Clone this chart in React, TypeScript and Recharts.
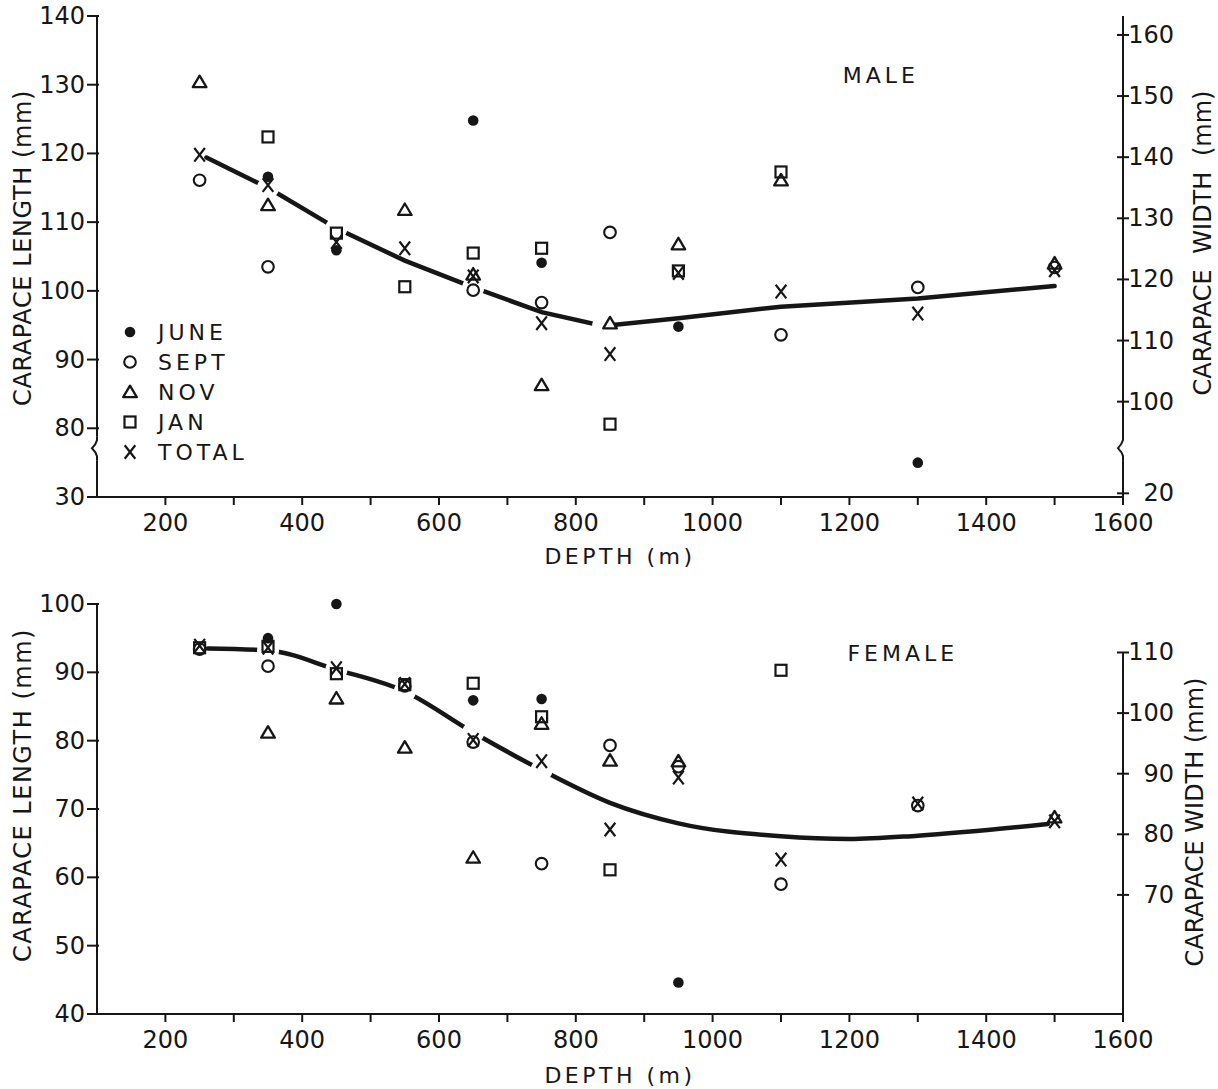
import React from 'react';
import { ComposedChart, Scatter, Line, XAxis, YAxis, Legend, ReferenceDot } from 'recharts';

const INK = '#161616';
const FONT = '"DejaVu Sans", "Liberation Sans", sans-serif';

// ---------- axes ----------
const DEPTH_TICKS = [200, 300, 400, 500, 600, 700, 800, 900, 1000, 1100, 1200, 1300, 1400, 1500, 1600];
const DEPTH_LABELS = [200, 400, 600, 800, 1000, 1200, 1400, 1600];

const MALE_LEFT_TICKS = [70, 77.1, 80, 90, 100, 110, 120, 130, 140];
const MALE_LEFT_BREAK = 77.1;
const MALE_LEFT_TEXT: Record<number, string> = { 70: '30' };
const MALE_BREAK_SHIFT = 40; // values below the break are drawn 40 mm higher
const MALE_RIGHT_TICKS = [85, 92.4, 100, 110, 120, 130, 140, 150, 160];
const MALE_RIGHT_BREAK = 92.4;
const MALE_RIGHT_TEXT: Record<number, string> = { 85: '20' };

const FEMALE_LEFT_TICKS = [40, 50, 60, 70, 80, 90, 100];
const FEMALE_RIGHT_TICKS = [70, 80, 90, 100, 110];

// ---------- data (depth m, carapace length mm) ----------
type Pt = { depth: number; cl: number };

const MALE_JUNE: Pt[] = [
  { depth: 350, cl: 116.6 }, { depth: 450, cl: 105.9 }, { depth: 650, cl: 124.8 },
  { depth: 750, cl: 104.1 }, { depth: 950, cl: 94.8 }, { depth: 1300, cl: 35 },
];
const MALE_SEPT: Pt[] = [
  { depth: 250, cl: 116.1 }, { depth: 350, cl: 103.5 }, { depth: 650, cl: 100.1 },
  { depth: 750, cl: 98.3 }, { depth: 850, cl: 108.5 }, { depth: 1100, cl: 93.6 },
  { depth: 1300, cl: 100.5 }, { depth: 1500, cl: 103.4 },
];
const MALE_NOV: Pt[] = [
  { depth: 250, cl: 130.4 }, { depth: 350, cl: 112.5 }, { depth: 550, cl: 111.8 },
  { depth: 650, cl: 102.4 }, { depth: 750, cl: 86.3 }, { depth: 850, cl: 95.3 },
  { depth: 950, cl: 106.8 }, { depth: 1100, cl: 116.1 }, { depth: 1500, cl: 104.0 },
];
const MALE_JAN: Pt[] = [
  { depth: 350, cl: 122.4 }, { depth: 450, cl: 108.4 }, { depth: 550, cl: 100.6 },
  { depth: 650, cl: 105.5 }, { depth: 750, cl: 106.2 }, { depth: 850, cl: 80.6 },
  { depth: 950, cl: 102.9 }, { depth: 1100, cl: 117.3 },
];
const MALE_TOTAL: Pt[] = [
  { depth: 250, cl: 119.8 }, { depth: 350, cl: 115.4 }, { depth: 450, cl: 107.1 },
  { depth: 550, cl: 106.2 }, { depth: 650, cl: 102.1 }, { depth: 750, cl: 95.3 },
  { depth: 850, cl: 90.8 }, { depth: 950, cl: 102.6 }, { depth: 1100, cl: 99.9 },
  { depth: 1300, cl: 96.7 }, { depth: 1500, cl: 103.0 },
];
const MALE_FIT: Pt[] = [
  { depth: 260, cl: 119.4 }, { depth: 350, cl: 115.0 }, { depth: 450, cl: 109.1 },
  { depth: 550, cl: 104.4 }, { depth: 650, cl: 100.5 }, { depth: 750, cl: 96.9 },
  { depth: 840, cl: 94.9 }, { depth: 950, cl: 96.0 }, { depth: 1100, cl: 97.7 },
  { depth: 1300, cl: 98.9 }, { depth: 1500, cl: 100.7 },
];
// depths where the drawn curve is broken around a symbol
const MALE_FIT_GAPS = [350, 450, 650, 840];

const FEMALE_JUNE: Pt[] = [
  { depth: 350, cl: 95.0 }, { depth: 450, cl: 100.0 }, { depth: 650, cl: 85.9 },
  { depth: 750, cl: 86.1 }, { depth: 950, cl: 44.6 },
];
const FEMALE_SEPT: Pt[] = [
  { depth: 250, cl: 93.4 }, { depth: 350, cl: 90.9 }, { depth: 550, cl: 88.0 },
  { depth: 650, cl: 79.8 }, { depth: 750, cl: 62.0 }, { depth: 850, cl: 79.3 },
  { depth: 950, cl: 76.2 }, { depth: 1100, cl: 59.0 }, { depth: 1300, cl: 70.5 },
];
const FEMALE_NOV: Pt[] = [
  { depth: 350, cl: 81.2 }, { depth: 450, cl: 86.2 }, { depth: 550, cl: 79.0 },
  { depth: 650, cl: 62.9 }, { depth: 750, cl: 82.5 }, { depth: 850, cl: 77.1 },
  { depth: 950, cl: 77.0 }, { depth: 1500, cl: 68.8 },
];
const FEMALE_JAN: Pt[] = [
  { depth: 250, cl: 93.6 }, { depth: 350, cl: 93.8 }, { depth: 450, cl: 89.8 },
  { depth: 550, cl: 88.2 }, { depth: 650, cl: 88.4 }, { depth: 750, cl: 83.5 },
  { depth: 850, cl: 61.1 }, { depth: 1100, cl: 90.3 },
];
const FEMALE_TOTAL: Pt[] = [
  { depth: 250, cl: 93.9 }, { depth: 350, cl: 93.6 }, { depth: 450, cl: 90.6 },
  { depth: 550, cl: 88.3 }, { depth: 650, cl: 80.1 }, { depth: 750, cl: 77.0 },
  { depth: 850, cl: 67.0 }, { depth: 950, cl: 74.6 }, { depth: 1100, cl: 62.6 },
  { depth: 1300, cl: 70.8 }, { depth: 1500, cl: 68.2 },
];
const FEMALE_FIT: Pt[] = [
  { depth: 262, cl: 93.5 }, { depth: 350, cl: 93.2 }, { depth: 450, cl: 90.4 },
  { depth: 550, cl: 87.2 }, { depth: 650, cl: 81.2 }, { depth: 750, cl: 75.7 },
  { depth: 850, cl: 70.9 }, { depth: 950, cl: 67.9 }, { depth: 1100, cl: 66.0 },
  { depth: 1200, cl: 65.6 }, { depth: 1300, cl: 66.1 }, { depth: 1490, cl: 67.8 },
];
const FEMALE_FIT_GAPS = [350, 450, 550, 650, 750];

const MALE_TAG = { depth: 1246, cl: 131.4 };
const FEMALE_TAG = { depth: 1278, cl: 92.8 };

// ---------- marker shapes ----------
const FilledDot = (p: any) => <circle cx={p.cx} cy={p.cy} r={5.3} fill={INK} />;
const OpenCircle = (p: any) => (
  <circle cx={p.cx} cy={p.cy} r={5.8} fill="none" stroke={INK} strokeWidth={2.1} />
);
const Triangle = (p: any) => (
  <path
    d={`M${p.cx},${p.cy - 6.3} L${p.cx + 6.8},${p.cy + 5.2} L${p.cx - 6.8},${p.cy + 5.2} Z`}
    fill="none" stroke={INK} strokeWidth={2.3} strokeLinejoin="round"
  />
);
const Square = (p: any) => (
  <rect x={p.cx - 5.5} y={p.cy - 5.5} width={11} height={11} fill="none" stroke={INK} strokeWidth={2.2} />
);
const Cross = (p: any) => (
  <path
    d={`M${p.cx - 5.3},${p.cy - 6.8} L${p.cx + 5.3},${p.cy + 6.8} M${p.cx + 5.3},${p.cy - 6.8} L${p.cx - 5.3},${p.cy + 6.8}`}
    stroke={INK} strokeWidth={2.2} fill="none"
  />
);
const Knockout = (p: any) => <circle cx={p.cx} cy={p.cy} r={11} fill="#fff" />;

const SERIES_NAMES = ['JUNE', 'SEPT', 'NOV', 'JAN', 'TOTAL'];
const SERIES_SHAPES = [FilledDot, OpenCircle, Triangle, Square, Cross];

// ---------- ticks ----------
const BreakMark = ({ x, y }: { x: number; y: number }) => (
  <g>
    <rect x={x - 3} y={y - 12} width={6} height={24} fill="#fff" />
    <path
      d={`M${x},${y - 12} L${x},${y - 8} Q${x - 1},${y - 4} ${x - 5},${y} Q${x - 1},${y + 4} ${x},${y + 8} L${x},${y + 12}`}
      fill="none" stroke={INK} strokeWidth={2}
    />
  </g>
);

function leftTick(breakAt: number | null, text: Record<number, string>) {
  return (props: any) => {
    const { x, y, payload } = props;
    const v = payload.value;
    if (breakAt !== null && Math.abs(v - breakAt) < 1e-6) return <BreakMark x={x} y={y} />;
    return (
      <g>
        <line x1={x - 10} x2={x + 2} y1={y} y2={y} stroke={INK} strokeWidth={2} />
        <text x={x - 12} y={y} textAnchor="end" dominantBaseline="central" fill={INK} fontFamily={FONT} fontSize={24}>
          {text[v] ?? String(v)}
        </text>
      </g>
    );
  };
}

function rightTick(breakAt: number | null, text: Record<number, string>, lineTop: number | null, lineBottom: number) {
  return (props: any) => {
    const { x, y, payload } = props;
    const v = payload.value;
    if (breakAt !== null && Math.abs(v - breakAt) < 1e-6) return <BreakMark x={x} y={y} />;
    return (
      <g>
        {lineTop !== null && v === lineTop && (
          <line x1={x} x2={x} y1={y} y2={lineBottom} stroke={INK} strokeWidth={2} />
        )}
        <line x1={x - 6} x2={x + 6} y1={y} y2={y} stroke={INK} strokeWidth={2} />
        <text x={x + 51} y={y} textAnchor="end" dominantBaseline="central" fill={INK} fontFamily={FONT} fontSize={24}>
          {text[v] ?? String(v)}
        </text>
      </g>
    );
  };
}

const depthTick = (props: any) => {
  const { x, y, payload } = props;
  const v = payload.value;
  return (
    <g>
      <line x1={x} x2={x} y1={y} y2={y + 8} stroke={INK} strokeWidth={2} />
      {DEPTH_LABELS.includes(v) && (
        <text x={x} y={y + 26} textAnchor="middle" dominantBaseline="central" fill={INK} fontFamily={FONT} fontSize={24}>
          {v}
        </text>
      )}
    </g>
  );
};

// ---------- titles ----------
const Title = (p: any) => (
  <text
    x={p.px}
    y={p.py}
    transform={p.rot ? `rotate(${p.rot} ${p.px} ${p.py})` : undefined}
    textAnchor="middle"
    dominantBaseline="central"
    fill={INK}
    fontFamily={FONT}
    fontSize={p.size ?? 24}
    letterSpacing={p.spacing ?? 0}
    wordSpacing={p.words ?? 0}
  >
    {p.txt}
  </text>
);

const PanelTag = (p: any) => {
  const vb = p.viewBox || { x: 0, y: 0, width: 0, height: 0 };
  const cx = vb.x + (vb.width || 0) / 2;
  const cy = vb.y + (vb.height || 0) / 2;
  return (
    <text x={cx} y={cy} textAnchor="middle" dominantBaseline="central" fill={INK} fontFamily={FONT} fontSize={22} letterSpacing={4}>
      {p.txt}
    </text>
  );
};

const LegendBox = () => (
  <svg width={200} height={160} style={{ overflow: 'visible', display: 'block' }}>
    {SERIES_NAMES.map((name, i) => {
      const Shape = SERIES_SHAPES[i];
      const cy = 20 + i * 30;
      return (
        <g key={name}>
          <Shape cx={20} cy={cy} />
          <text x={48} y={cy} dominantBaseline="central" fill={INK} fontFamily={FONT} fontSize={22} letterSpacing={4}>
            {name}
          </text>
        </g>
      );
    })}
  </svg>
);

const shiftMale = (pts: Pt[]) =>
  pts.map((p) => ({ depth: p.depth, cl: p.cl < 60 ? p.cl + MALE_BREAK_SHIFT : p.cl }));

const MALE_SERIES = [MALE_JUNE, MALE_SEPT, MALE_NOV, MALE_JAN, MALE_TOTAL];
const FEMALE_SERIES = [FEMALE_JUNE, FEMALE_SEPT, FEMALE_NOV, FEMALE_JAN, FEMALE_TOTAL];

export default function App() {
  const maleFit = shiftMale(MALE_FIT);
  const maleGaps = maleFit.filter((p) => MALE_FIT_GAPS.includes(p.depth));
  const femaleGaps = FEMALE_FIT.filter((p) => FEMALE_FIT_GAPS.includes(p.depth));
  return (
    <div style={{ position: 'absolute', left: 0, top: 0, width: 1218, height: 1089, background: '#fff' }}>
      {/* MALE */}
      <div style={{ position: 'absolute', left: 0, top: 0 }}>
        <ComposedChart width={1218} height={580} margin={{ top: 16, right: 0, bottom: 0, left: 0 }}>
          <XAxis
            dataKey="depth"
            type="number"
            domain={[100, 1600]}
            ticks={DEPTH_TICKS}
            interval={0}
            tickSize={0}
            tickMargin={0}
            tickLine={false}
            tick={depthTick}
            height={83}
            axisLine={{ stroke: INK, strokeWidth: 2 }}
            label={<Title px={620} py={556} txt="DEPTH (m)" size={22} spacing={3.5} />}
          />
          <YAxis
            yAxisId="left"
            dataKey="cl"
            type="number"
            domain={[70, 140]}
            ticks={MALE_LEFT_TICKS}
            interval={0}
            width={97}
            tickSize={0}
            tickMargin={0}
            tickLine={false}
            tick={leftTick(MALE_LEFT_BREAK, MALE_LEFT_TEXT)}
            axisLine={{ stroke: INK, strokeWidth: 2 }}
            label={<Title px={23} py={248} rot={-90} txt="CARAPACE LENGTH (mm)" spacing={0.6} />}
          />
          <YAxis
            yAxisId="right"
            orientation="right"
            dataKey="cw"
            type="number"
            domain={[84.4, 163.1]}
            allowDataOverflow
            ticks={MALE_RIGHT_TICKS}
            interval={0}
            width={95}
            tickSize={0}
            tickMargin={0}
            tickLine={false}
            tick={rightTick(MALE_RIGHT_BREAK, MALE_RIGHT_TEXT, null, 0)}
            axisLine={{ stroke: INK, strokeWidth: 2 }}
            label={<Title px={1203} py={243} rot={-90} txt="CARAPACE WIDTH (mm)" spacing={0} words={8} />}
          />
          <Line
            data={maleFit}
            dataKey="cl"
            yAxisId="left"
            type="linear"
            stroke={INK}
            strokeWidth={4.5}
            strokeLinecap="round"
            dot={false}
            activeDot={false}
            isAnimationActive={false}
            legendType="none"
          />
          <Scatter
            name="gaps"
            data={maleGaps}
            yAxisId="left"
            shape={Knockout}
            legendType="none"
            isAnimationActive={false}
          />
          {MALE_SERIES.map((s, i) => (
            <Scatter
              key={SERIES_NAMES[i]}
              name={SERIES_NAMES[i]}
              data={shiftMale(s)}
              yAxisId="left"
              shape={SERIES_SHAPES[i]}
              isAnimationActive={false}
            />
          ))}
          <ReferenceDot
            x={MALE_TAG.depth}
            y={MALE_TAG.cl}
            yAxisId="left"
            r={1}
            fill="none"
            stroke="none"
            label={<PanelTag txt="MALE" />}
          />
          <Legend
            layout="vertical"
            align="center"
            verticalAlign="middle"
            wrapperStyle={{ left: 110, top: 312, width: 200, height: 160 }}
            content={() => <LegendBox />}
          />
        </ComposedChart>
      </div>

      {/* FEMALE */}
      <div style={{ position: 'absolute', left: 0, top: 580 }}>
        <ComposedChart width={1218} height={509} margin={{ top: 24, right: 0, bottom: 0, left: 0 }}>
          <XAxis
            dataKey="depth"
            type="number"
            domain={[100, 1600]}
            ticks={DEPTH_TICKS}
            interval={0}
            tickSize={0}
            tickMargin={0}
            tickLine={false}
            tick={depthTick}
            height={75}
            axisLine={{ stroke: INK, strokeWidth: 2 }}
            label={<Title px={620} py={495} txt="DEPTH (m)" size={22} spacing={3.5} />}
          />
          <YAxis
            yAxisId="left"
            dataKey="cl"
            type="number"
            domain={[40, 100]}
            ticks={FEMALE_LEFT_TICKS}
            interval={0}
            width={97}
            tickSize={0}
            tickMargin={0}
            tickLine={false}
            tick={leftTick(null, {})}
            axisLine={{ stroke: INK, strokeWidth: 2 }}
            label={<Title px={23} py={215} rot={-90} txt="CARAPACE LENGTH (mm)" spacing={1.5} />}
          />
          <YAxis
            yAxisId="right"
            orientation="right"
            dataKey="cw"
            type="number"
            domain={[50.35, 118]}
            allowDataOverflow
            ticks={FEMALE_RIGHT_TICKS}
            interval={0}
            width={95}
            tickSize={0}
            tickMargin={0}
            tickLine={false}
            tick={rightTick(null, {}, 110, 434)}
            axisLine={false}
            label={<Title px={1195} py={242} rot={-90} txt="CARAPACE WIDTH (mm)" spacing={0} />}
          />
          <Line
            data={FEMALE_FIT}
            dataKey="cl"
            yAxisId="left"
            type="monotone"
            stroke={INK}
            strokeWidth={4.5}
            strokeLinecap="round"
            dot={false}
            activeDot={false}
            isAnimationActive={false}
            legendType="none"
          />
          <Scatter
            name="gaps"
            data={femaleGaps}
            yAxisId="left"
            shape={Knockout}
            legendType="none"
            isAnimationActive={false}
          />
          {FEMALE_SERIES.map((s, i) => (
            <Scatter
              key={SERIES_NAMES[i]}
              name={SERIES_NAMES[i]}
              data={s}
              yAxisId="left"
              shape={SERIES_SHAPES[i]}
              isAnimationActive={false}
            />
          ))}
          <ReferenceDot
            x={FEMALE_TAG.depth}
            y={FEMALE_TAG.cl}
            yAxisId="left"
            r={1}
            fill="none"
            stroke="none"
            label={<PanelTag txt="FEMALE" />}
          />
        </ComposedChart>
      </div>
    </div>
  );
}
